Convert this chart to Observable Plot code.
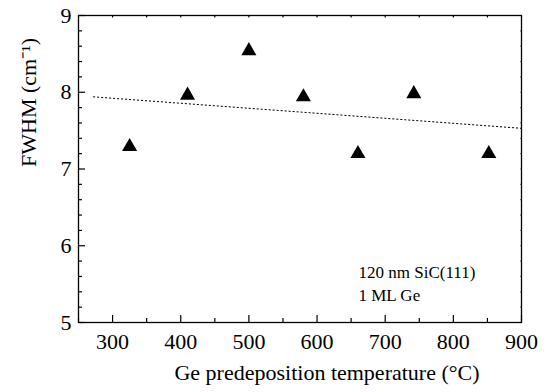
<!DOCTYPE html>
<html>
<head>
<meta charset="utf-8">
<script src="https://cdn.jsdelivr.net/npm/d3@7"></script>
<script src="https://cdn.jsdelivr.net/npm/@observablehq/plot@0.6"></script>
<style>
  html, body { margin: 0; padding: 0; background: #fff; }
  #chart { width: 552px; height: 392px; }
</style>
</head>
<body>
<div id="chart"></div>
<script>
// Data
const temperature = [325, 410, 500, 580, 660, 742, 852];
const fwhm = [7.29, 7.96, 8.54, 7.94, 7.20, 7.98, 7.20];
const trendX = [272, 900];
const trendY = [7.94, 7.53];
const xMajor = [300, 400, 500, 600, 700, 800, 900];
const xMinor = [250, 350, 450, 550, 650, 750, 850];
const yMajor = [5, 6, 7, 8, 9];
const yMinor = [5.2, 5.4, 5.6, 5.8, 6.2, 6.4, 6.6, 6.8, 7.2, 7.4, 7.6, 7.8, 8.2, 8.4, 8.6, 8.8];
const xTitle = "Ge predeposition temperature (°C)";
const yTitle = "FWHM (cm⁻¹)";
const notes = ["120 nm SiC(111)", "1 ML Ge"];

const points = temperature.map((t, i) => ({t, v: fwhm[i]}));
const trend = trendX.map((t, i) => ({t, v: trendY[i]}));
const font = "Liberation Serif";
const big = 22;

const chart = Plot.plot({
  width: 552,
  height: 392,
  marginLeft: 78,
  marginRight: 31,
  marginTop: 15,
  marginBottom: 70,
  style: {fontFamily: font, background: "#fff", color: "#000"},
  x: {domain: [250, 900]},
  y: {domain: [5, 9]},
  marks: [
    // inward ticks bottom
    Plot.axisX(xMajor, {anchor: "bottom", tickSize: -7, text: null, label: null, strokeWidth: 1.2}),
    Plot.axisX(xMinor, {anchor: "bottom", tickSize: -4, text: null, label: null, strokeWidth: 1.2}),
    Plot.axisX(xMajor.concat(xMinor), {anchor: "top", tickSize: -1.5, text: null, label: null, strokeWidth: 1.2}),
    Plot.axisX(xMajor, {anchor: "bottom", tickSize: 0, tickPadding: 11, fontSize: big, fontFamily: font, fontVariant: "normal", tickFormat: d => String(d), label: null}),
    // inward ticks left
    Plot.axisY(yMajor, {anchor: "left", tickSize: -7, text: null, label: null, strokeWidth: 1.2}),
    Plot.axisY(yMinor, {anchor: "left", tickSize: -4, text: null, label: null, strokeWidth: 1.2}),
    Plot.axisY(yMajor.concat(yMinor), {anchor: "right", tickSize: -1.5, text: null, label: null, strokeWidth: 1.2}),
    Plot.axisY(yMajor, {anchor: "left", tickSize: 0, tickPadding: 7, fontSize: big, fontFamily: font, fontVariant: "normal", tickFormat: d => String(d), label: null}),
    Plot.frame({stroke: "#000", strokeWidth: 1.3}),
    // trend line
    Plot.line(trend, {x: "t", y: "v", stroke: "#000", strokeWidth: 1, strokeDasharray: "1.3,2.7"}),
    // data
    Plot.dot(points, {x: "t", y: "v", symbol: "triangle", r: 5.6, fill: "#000", stroke: "none"}),
    // annotation
    Plot.text([notes[0]], {frameAnchor: "top-left", dx: 280, dy: 262, text: d => d, textAnchor: "start", lineAnchor: "bottom", fontSize: 17, fontFamily: font, fill: "#000"}),
    Plot.text([notes[1]], {frameAnchor: "top-left", dx: 280, dy: 285, text: d => d, textAnchor: "start", lineAnchor: "bottom", fontSize: 17, fontFamily: font, fill: "#000"}),
    // axis titles
    Plot.text([xTitle], {frameAnchor: "bottom", dx: 27, dy: 57, text: d => d, lineAnchor: "bottom", fontSize: big, fontFamily: font, fill: "#000"}),
    Plot.text([yTitle], {frameAnchor: "left", dx: -50, dy: -2, rotate: -90, text: d => d, fontSize: big, fontFamily: font, fill: "#000"})
  ]
});
document.getElementById("chart").appendChild(chart);
</script>
</body>
</html>
